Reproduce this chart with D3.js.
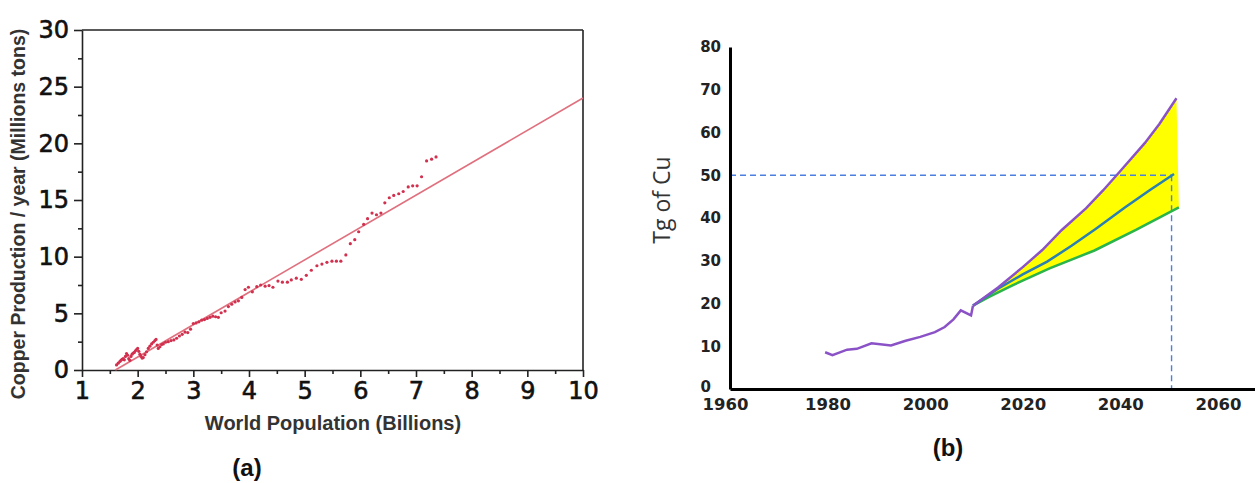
<!DOCTYPE html>
<html><head><meta charset="utf-8">
<script src="https://cdn.jsdelivr.net/npm/d3@7"></script>
<style>
body{margin:0;background:#fff;}
svg{display:block;}
</style></head>
<body><svg id="c" width="1255" height="483"></svg>
<script>
// ---------- Panel (a) data ----------
const popX = [1.62,1.65,1.68,1.70,1.72,1.74,1.76,1.78,1.80,1.82,1.84,1.86,1.88,1.90,1.92,1.94,1.96,1.98,2.00,2.02,2.04,2.06,2.08,2.10,2.13,2.16,2.19,2.22,2.25,2.28,2.31,2.33,2.35,2.37,2.40,2.43,2.46,2.50,2.55,2.60,2.65,2.70,2.75,2.80,2.85,2.90,2.95,3.00,3.05,3.10,3.15,3.20,3.25,3.30,3.35,3.40,3.45,3.50,3.57,3.63,3.69,3.75,3.81,3.87,3.93,3.99,4.06,4.14,4.21,4.29,4.36,4.43,4.52,4.60,4.69,4.76,4.85,4.94,5.03,5.12,5.22,5.31,5.40,5.49,5.57,5.65,5.74,5.82,5.90,5.97,6.06,6.13,6.21,6.29,6.37,6.44,6.52,6.60,6.69,6.77,6.86,6.94,7.02,7.10,7.19,7.28,7.36];
const copperY = [0.45,0.6,0.75,0.85,0.95,1.0,0.9,1.2,1.45,1.3,1.0,0.85,1.2,1.4,1.5,1.55,1.7,1.8,1.9,1.65,1.4,1.2,1.05,1.1,1.35,1.6,1.9,2.1,2.3,2.45,2.6,2.7,2.2,1.9,2.05,2.25,2.3,2.45,2.5,2.6,2.65,2.8,3.0,3.15,3.35,3.3,3.6,4.1,4.15,4.25,4.4,4.45,4.55,4.65,4.75,4.7,4.65,5.05,5.2,5.6,5.8,6.0,6.1,6.4,7.1,7.3,6.9,7.35,7.5,7.4,7.45,7.3,7.85,7.75,7.75,7.95,8.1,8.0,8.35,8.8,9.2,9.35,9.5,9.6,9.6,9.6,10.15,11.15,11.5,12.2,12.85,13.35,13.85,13.7,13.85,14.75,15.2,15.4,15.55,15.75,16.15,16.25,16.25,17.05,18.45,18.6,18.8];
const fitX = [1.6, 10];
const fitY = [0, 24];
const aXTicks = [1,2,3,4,5,6,7,8,9,10];
const aYTicks = [0,5,10,15,20,25,30];

// ---------- Panel (b) data ----------
const histYears = [1979.5,1981,1984,1986,1989,1993,1996,1999,2002,2004,2005.8,2007.3,2009.4,2009.8];
const histVals  = [8.6,7.9,9.2,9.4,10.7,10.2,11.3,12.2,13.3,14.5,16.3,18.4,17.2,19.5];
const highYears = [2009.8,2015,2020,2024,2028,2033,2036.5,2040,2045,2048,2051.5];
const highVals  = [19.5,23.8,28.5,32.5,37.2,42.3,46.5,51,57.5,62,68];
const midYears  = [2009.8,2015,2020,2025,2030,2035,2041,2046,2051];
const midVals   = [19.5,23.5,26.8,29.8,33.5,37.5,42.5,46.5,50.3];
const lowYears  = [2009.8,2013,2018,2025.5,2034.7,2043.2,2052];
const lowVals   = [19.5,21.5,24.3,28.2,32.4,37.2,42.5];
const bXTicks = [1960,1980,2000,2020,2040,2060];
const bYTicks = [0,10,20,30,40,50,60,70,80];
const targetYear = 2050.5, targetVal = 50;

const svg = d3.select("#c");

// ================= Panel (a) =================
const ax = d3.scaleLinear().domain([1,10]).range([82,583]);
const ay = d3.scaleLinear().domain([0,30]).range([370,30]);
const ga = svg.append("g");

ga.append("line").attr("x1",ax(1)).attr("x2",ax(10)).attr("y1",ay(30)).attr("y2",ay(30)).attr("stroke","#222").attr("stroke-width",1.6);
ga.append("line").attr("x1",ax(10)).attr("x2",ax(10)).attr("y1",ay(30)).attr("y2",ay(0)).attr("stroke","#222").attr("stroke-width",1.6);

ga.append("g").attr("transform",`translate(0,${ay(0)})`)
  .call(d3.axisBottom(ax).tickValues(d3.range(1.5,10,1)).tickSize(4).tickFormat(""))
  .call(g=>g.select(".domain").remove())
  .selectAll("line").attr("stroke","#222").attr("stroke-width",1.6);
ga.append("g").attr("transform",`translate(${ax(1)},0)`)
  .call(d3.axisLeft(ay).tickValues(d3.range(2.5,30,5)).tickSize(4).tickFormat(""))
  .call(g=>g.select(".domain").remove())
  .selectAll("line").attr("stroke","#222").attr("stroke-width",1.6);

const axB = ga.append("g").attr("transform",`translate(0,${ay(0)})`)
  .call(d3.axisBottom(ax).tickValues(aXTicks).tickSize(7).tickSizeOuter(0).tickPadding(5).tickFormat(d3.format("d")));
const axL = ga.append("g").attr("transform",`translate(${ax(1)},0)`)
  .call(d3.axisLeft(ay).tickValues(aYTicks).tickSize(8).tickSizeOuter(0).tickPadding(5).tickFormat(d3.format("d")));
[axB,axL].forEach(g=>{
  g.select(".domain").attr("stroke","#222").attr("stroke-width",1.6);
  g.selectAll("line").attr("stroke","#222").attr("stroke-width",1.6);
  g.selectAll("text").attr("font-family","DejaVu Sans").attr("font-size",24).attr("fill","#111")
    .attr("stroke","#111").attr("stroke-width",0.6);
});

ga.append("line").attr("x1",ax(fitX[0])).attr("y1",ay(fitY[0])).attr("x2",ax(fitX[1])).attr("y2",ay(fitY[1]))
  .attr("stroke","#e0707e").attr("stroke-width",1.6);

ga.append("g").selectAll("circle").data(popX).join("circle")
  .attr("cx",d=>ax(d)).attr("cy",(d,i)=>ay(copperY[i])).attr("r",1.6).attr("fill","#d1304e");

ga.append("text").attr("x",333).attr("y",430).attr("text-anchor","middle")
  .attr("font-family","Liberation Sans").attr("font-weight","bold").attr("font-size",20).attr("fill","#333")
  .text("World Population (Billions)");
ga.append("text").attr("transform","translate(25,214) rotate(-90)").attr("text-anchor","middle")
  .attr("font-family","Liberation Sans").attr("font-weight","bold").attr("font-size",19.5).attr("fill","#333")
  .text("Copper Production / year (Millions tons)");
ga.append("text").attr("x",247).attr("y",476).attr("text-anchor","middle")
  .attr("font-family","Liberation Sans").attr("font-weight","bold").attr("font-size",24).attr("fill","#111")
  .text("(a)");

// ================= Panel (b) =================
const bx = d3.scaleLinear().domain([1960,2067.6]).range([730,1255]);
const by = d3.scaleLinear().domain([0,80]).range([389,47]);
const gb = svg.append("g");

const toPts = (xs,vs)=>xs.map((x,i)=>[bx(x),by(vs[i])]);
const line = d3.line();

const band = toPts(highYears,highVals).concat(toPts(lowYears,lowVals).reverse());
gb.append("path").attr("d",line(band)+"Z").attr("fill","#ffff00").attr("stroke","none");

gb.append("line").attr("x1",bx(1960)).attr("x2",bx(targetYear)).attr("y1",by(targetVal)).attr("y2",by(targetVal))
  .attr("stroke","#4b80e0").attr("stroke-width",1.4).attr("stroke-dasharray","6,4");
gb.append("line").attr("x1",bx(targetYear)).attr("x2",bx(targetYear)).attr("y1",by(targetVal)).attr("y2",by(0))
  .attr("stroke","#4b80e0").attr("stroke-width",1.4).attr("stroke-dasharray","6,4");

gb.append("path").attr("d",line(toPts(lowYears,lowVals))).attr("fill","none").attr("stroke","#2bb44a").attr("stroke-width",2.5);
gb.append("path").attr("d",line(toPts(midYears,midVals))).attr("fill","none").attr("stroke","#2a7fb3").attr("stroke-width",2.5);
gb.append("path").attr("d",line(toPts(highYears,highVals))).attr("fill","none").attr("stroke","#8a52c6").attr("stroke-width",2.5);
gb.append("path").attr("d",line(toPts(histYears,histVals))).attr("fill","none").attr("stroke","#8a52c6").attr("stroke-width",2.5);

const bxA = gb.append("g").attr("transform",`translate(0,${by(0)})`)
  .call(d3.axisBottom(bx).tickValues(bXTicks).tickSize(0).tickSizeOuter(0).tickPadding(9).tickFormat(d3.format("d")));
const byA = gb.append("g").attr("transform",`translate(${bx(1960)},0)`)
  .call(d3.axisLeft(by).tickValues(bYTicks).tickSize(0).tickSizeOuter(0).tickPadding(9).tickFormat(d3.format("d")));
[bxA,byA].forEach(g=>{
  g.select(".domain").attr("stroke","#000").attr("stroke-width",3);
  g.selectAll("text").attr("font-family","DejaVu Sans").attr("font-weight","bold").attr("fill","#222");
});
bxA.selectAll("text").attr("font-size",16.5);
bxA.selectAll("text").filter(d=>d===1960).attr("dx",-5);
byA.selectAll("text").attr("font-size",15);
byA.selectAll("text").filter(d=>d===0).attr("dx",-10).attr("dy","0.15em");

gb.append("text").attr("transform","translate(670,200) rotate(-90)").attr("text-anchor","middle")
  .attr("font-family","Open Sans").attr("font-size",23).attr("fill","#333")
  .text("Tg of Cu");
gb.append("text").attr("x",948).attr("y",456).attr("text-anchor","middle")
  .attr("font-family","Liberation Sans").attr("font-weight","bold").attr("font-size",24).attr("fill","#111")
  .text("(b)");
</script>
</body></html>
